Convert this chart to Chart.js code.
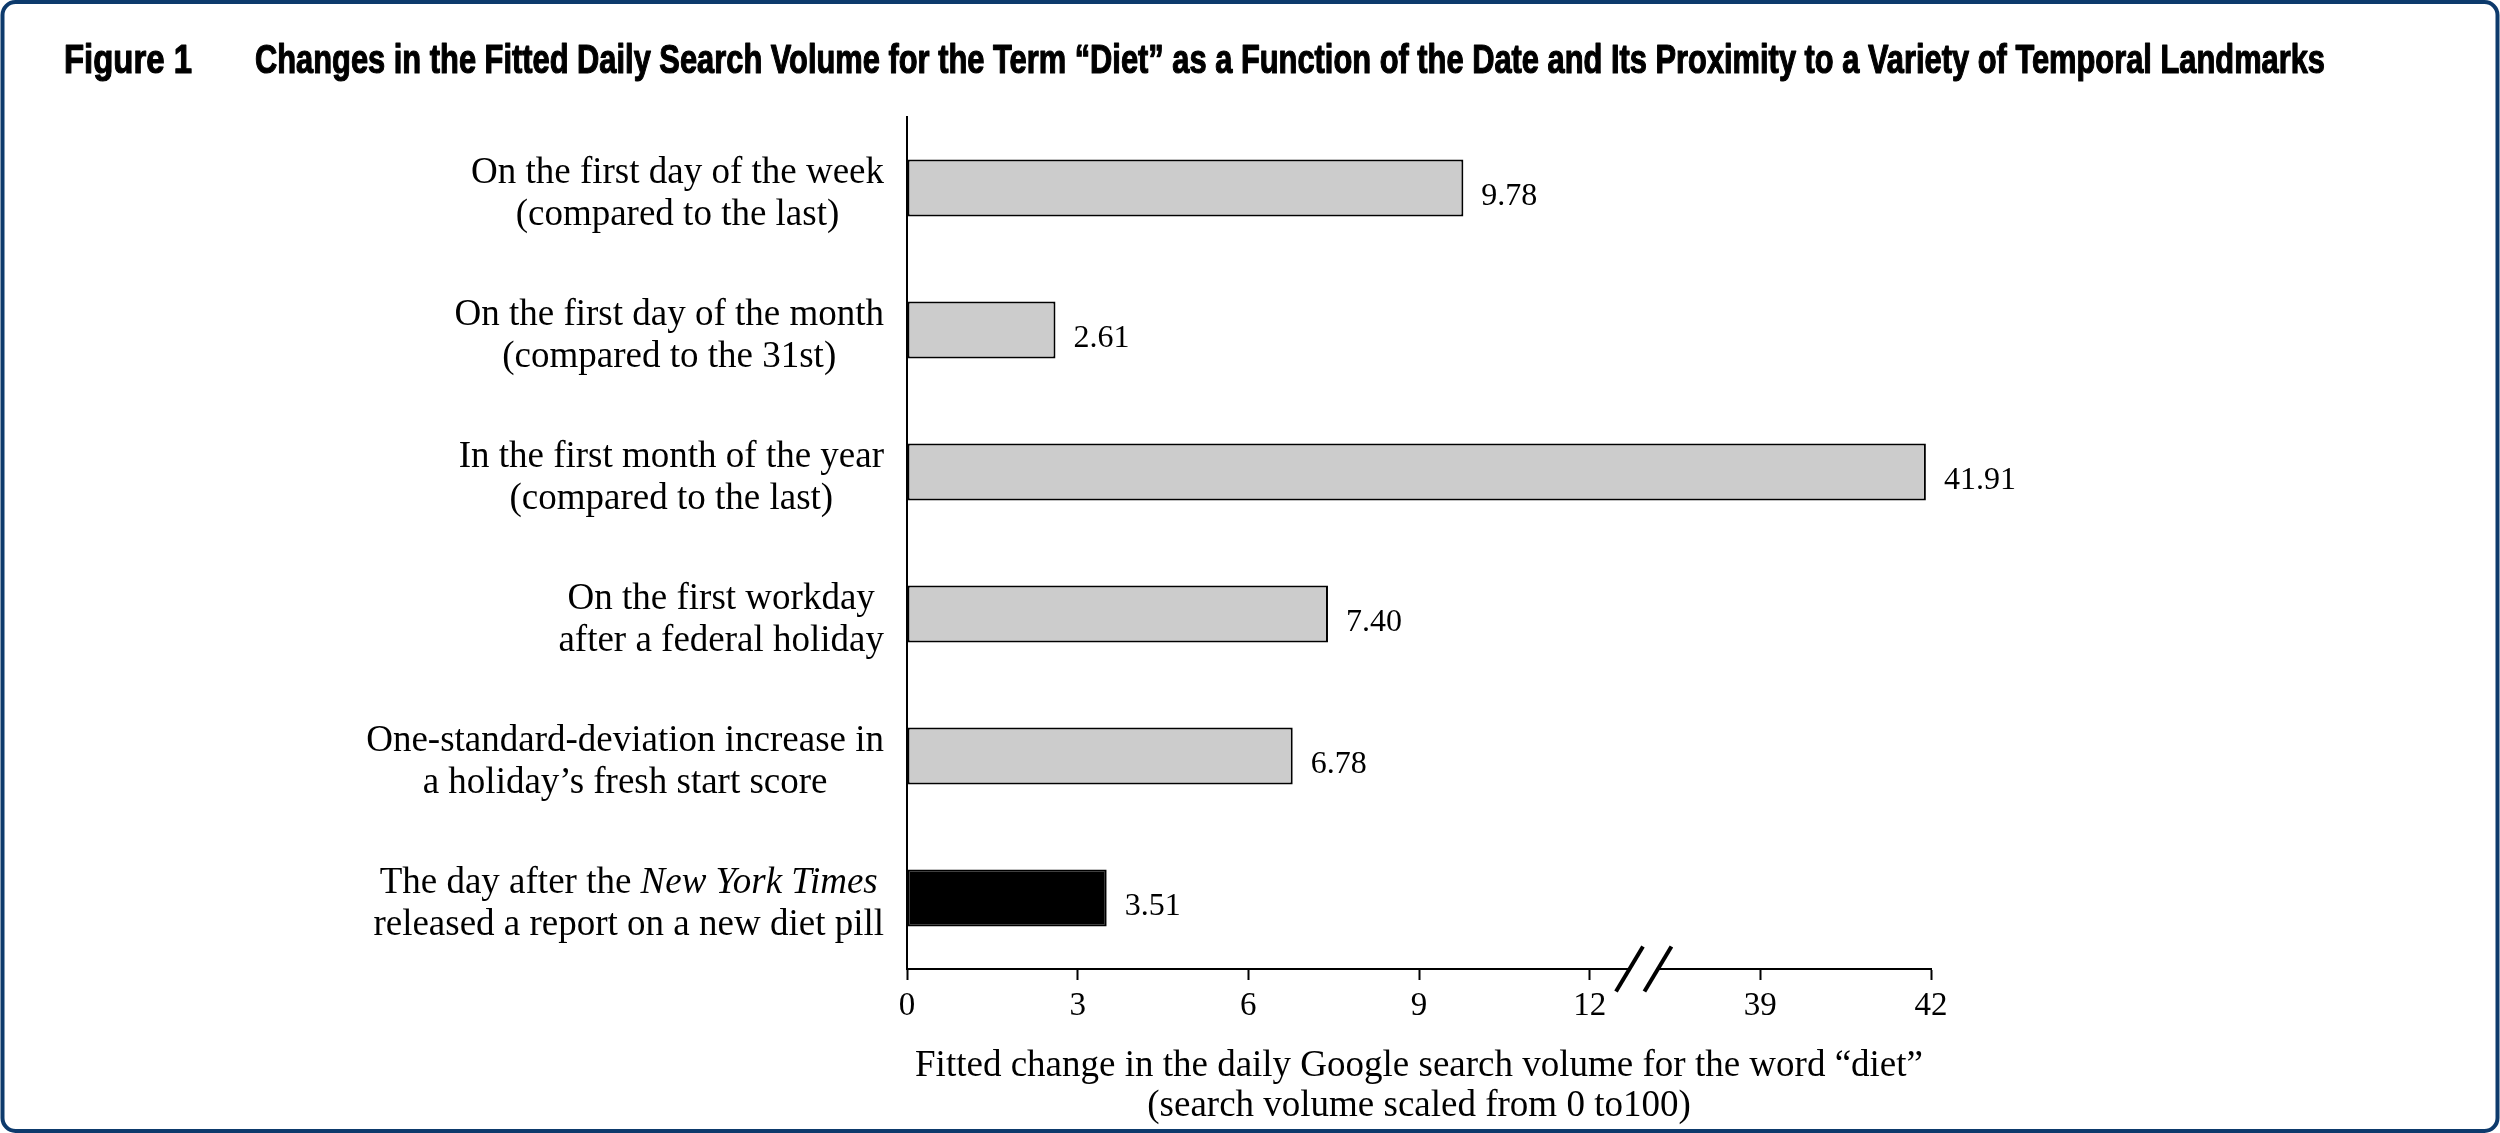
<!DOCTYPE html>
<html>
<head>
<meta charset="utf-8">
<script src="https://cdn.jsdelivr.net/npm/chart.js@4"></script>
<style>
html,body{margin:0;padding:0;background:#ffffff;}
canvas{display:block;}
</style>
</head>
<body>
<canvas id="c" width="2500" height="1133"></canvas>
<script>
// ---- data ----
const figureLabel = "Figure 1";
const figureTitle = "Changes in the Fitted Daily Search Volume for the Term \u201cDiet\u201d as a Function of the Date and Its Proximity to a Variety of Temporal Landmarks";
const categories = [
  ["On the first day of the week", "(compared to the last)"],
  ["On the first day of the month", "(compared to the 31st)"],
  ["In the first month of the year", "(compared to the last)"],
  ["On the first workday", "after a federal holiday"],
  ["One-standard-deviation increase in", "a holiday\u2019s fresh start score"],
  ["The day after the _New York Times_", "released a report on a new diet pill"]
];
const values = [9.78, 2.61, 41.91, 7.40, 6.78, 3.51];
const barColors = ["#cccccc", "#cccccc", "#cccccc", "#cccccc", "#cccccc", "#000000"];
const tickValues = [0, 3, 6, 9, 12, 39, 42];
const tickLabels = ["0", "3", "6", "9", "12", "39", "42"];
const xTitle = ["Fitted change in the daily Google search volume for the word \u201cdiet\u201d", "(search volume scaled from 0 to100)"];
// broken axis: the stretch between breakStart and breakEnd is cut out
const breakStart = 12.95;
const breakEnd = 36.95;

const gap = breakEnd - breakStart;
const toAxis = v => (v > breakStart ? v - gap : v);

const SERIF = '"Liberation Serif", "Times New Roman", Times, serif';
const COND = '"Liberation Sans Narrow", "Arial Narrow", "Liberation Sans", Arial, sans-serif';

function fitText(ctx, text, x, y, width) {
  const mw = ctx.measureText(text).width;
  ctx.save();
  ctx.translate(x, y);
  ctx.scale(width / mw, 1);
  ctx.lineWidth = 1.2;
  ctx.strokeStyle = '#000';
  ctx.lineJoin = 'round';
  ctx.strokeText(text, 0, 0);
  ctx.fillText(text, 0, 0);
  ctx.restore();
}

const decor = {
  id: 'decor',
  beforeDraw(chart) {
    const ctx = chart.ctx;
    ctx.save();
    ctx.fillStyle = '#ffffff';
    ctx.fillRect(0, 0, chart.width, chart.height);
    ctx.restore();
  },
  afterDraw(chart) {
    const ctx = chart.ctx;
    const xs = chart.scales.x, ys = chart.scales.y;
    const meta = chart.getDatasetMeta(0);
    ctx.save();

    // category labels (each block right-aligned, lines centred in block)
    const fsz = 37;
    const normalFont = fsz + 'px ' + SERIF;
    const italicFont = 'italic ' + fsz + 'px ' + SERIF;
    ctx.fillStyle = '#000';
    ctx.textBaseline = 'alphabetic';
    ctx.textAlign = 'left';
    const rightX = ys.right - 23;
    categories.forEach((lines, i) => {
      const yc = ys.getPixelForValue(i);
      const parsed = lines.map(line => {
        const segs = line.split('_').map((t, k) => ({t, it: k % 2 === 1}));
        let w = 0;
        segs.forEach(s => { ctx.font = s.it ? italicFont : normalFont; s.w = ctx.measureText(s.t).width; w += s.w; });
        return {segs, w};
      });
      const blockW = Math.max(...parsed.map(p => p.w));
      const cx = rightX - blockW / 2;
      const baselines = [yc - 5, yc + 37];
      parsed.forEach((p, li) => {
        let x = cx - p.w / 2;
        p.segs.forEach(s => {
          ctx.font = s.it ? italicFont : normalFont;
          ctx.fillText(s.t, x, baselines[li]);
          x += s.w;
        });
      });
    });

    // value labels
    ctx.font = '32px ' + SERIF;
    meta.data.forEach((bar, i) => {
      ctx.fillText(values[i].toFixed(2), bar.x + 18, bar.y + 17);
    });

    // axis break marks
    const axisY = xs.top;
    const p1 = xs.getPixelForValue(breakStart - 0.25);
    const p2 = xs.getPixelForValue(breakStart + 0.25);
    ctx.fillStyle = '#ffffff';
    ctx.fillRect(p1, axisY - 3, p2 - p1, 6);
    ctx.strokeStyle = '#000';
    ctx.lineWidth = 4;
    [p1, p2].forEach(px => {
      ctx.beginPath();
      ctx.moveTo(px - 13.5, axisY + 22.5);
      ctx.lineTo(px + 13.5, axisY - 22.5);
      ctx.stroke();
    });

    // figure title
    ctx.fillStyle = '#000';
    ctx.font = 'bold 40px ' + COND;
    fitText(ctx, figureLabel, 64, 73, 128);
    fitText(ctx, figureTitle, 255, 73, 2070);

    // frame
    ctx.strokeStyle = '#0d3a6c';
    ctx.lineWidth = 4;
    ctx.beginPath();
    ctx.roundRect(2.5, 2, chart.width - 5, chart.height - 4, 13);
    ctx.stroke();
    ctx.restore();
  }
};

new Chart(document.getElementById('c'), {
  type: 'bar',
  data: {
    labels: categories,
    datasets: [{
      data: values.map(toAxis),
      backgroundColor: barColors,
      borderColor: '#000000',
      borderWidth: 2,
      borderSkipped: false,
      barPercentage: 0.4,
      categoryPercentage: 1.0
    }]
  },
  options: {
    indexAxis: 'y',
    responsive: false,
    animation: false,
    devicePixelRatio: 1,
    layout: { padding: { top: 117, right: 569, bottom: 0, left: 0 } },
    plugins: { legend: { display: false }, tooltip: { enabled: false }, title: { display: false } },
    scales: {
      x: {
        type: 'linear',
        position: 'bottom',
        min: 0,
        max: toAxis(tickValues[tickValues.length - 1]),
        afterBuildTicks: sc => { sc.ticks = tickValues.map(v => ({ value: toAxis(v) })); },
        ticks: {
          callback: (v, i) => tickLabels[i],
          font: { family: SERIF, size: 33 },
          color: '#000',
          padding: 7,
          maxRotation: 0,
          autoSkip: false
        },
        grid: { display: true, drawOnChartArea: false, drawTicks: true, tickLength: 11, tickColor: '#000', tickWidth: 2, color: '#000' },
        border: { display: true, color: '#000', width: 2 },
        title: {
          display: true,
          text: xTitle,
          color: '#000',
          font: { family: SERIF, size: 37, lineHeight: 1.08 },
          padding: { top: 4, bottom: 7 }
        },
        afterFit: sc => { sc.height = 1133 - 969; }
      },
      y: {
        type: 'category',
        grid: { display: false },
        border: { display: true, color: '#000', width: 2 },
        ticks: { display: false },
        afterFit: sc => { sc.width = 907; }
      }
    }
  },
  plugins: [decor]
});
</script>
</body>
</html>
